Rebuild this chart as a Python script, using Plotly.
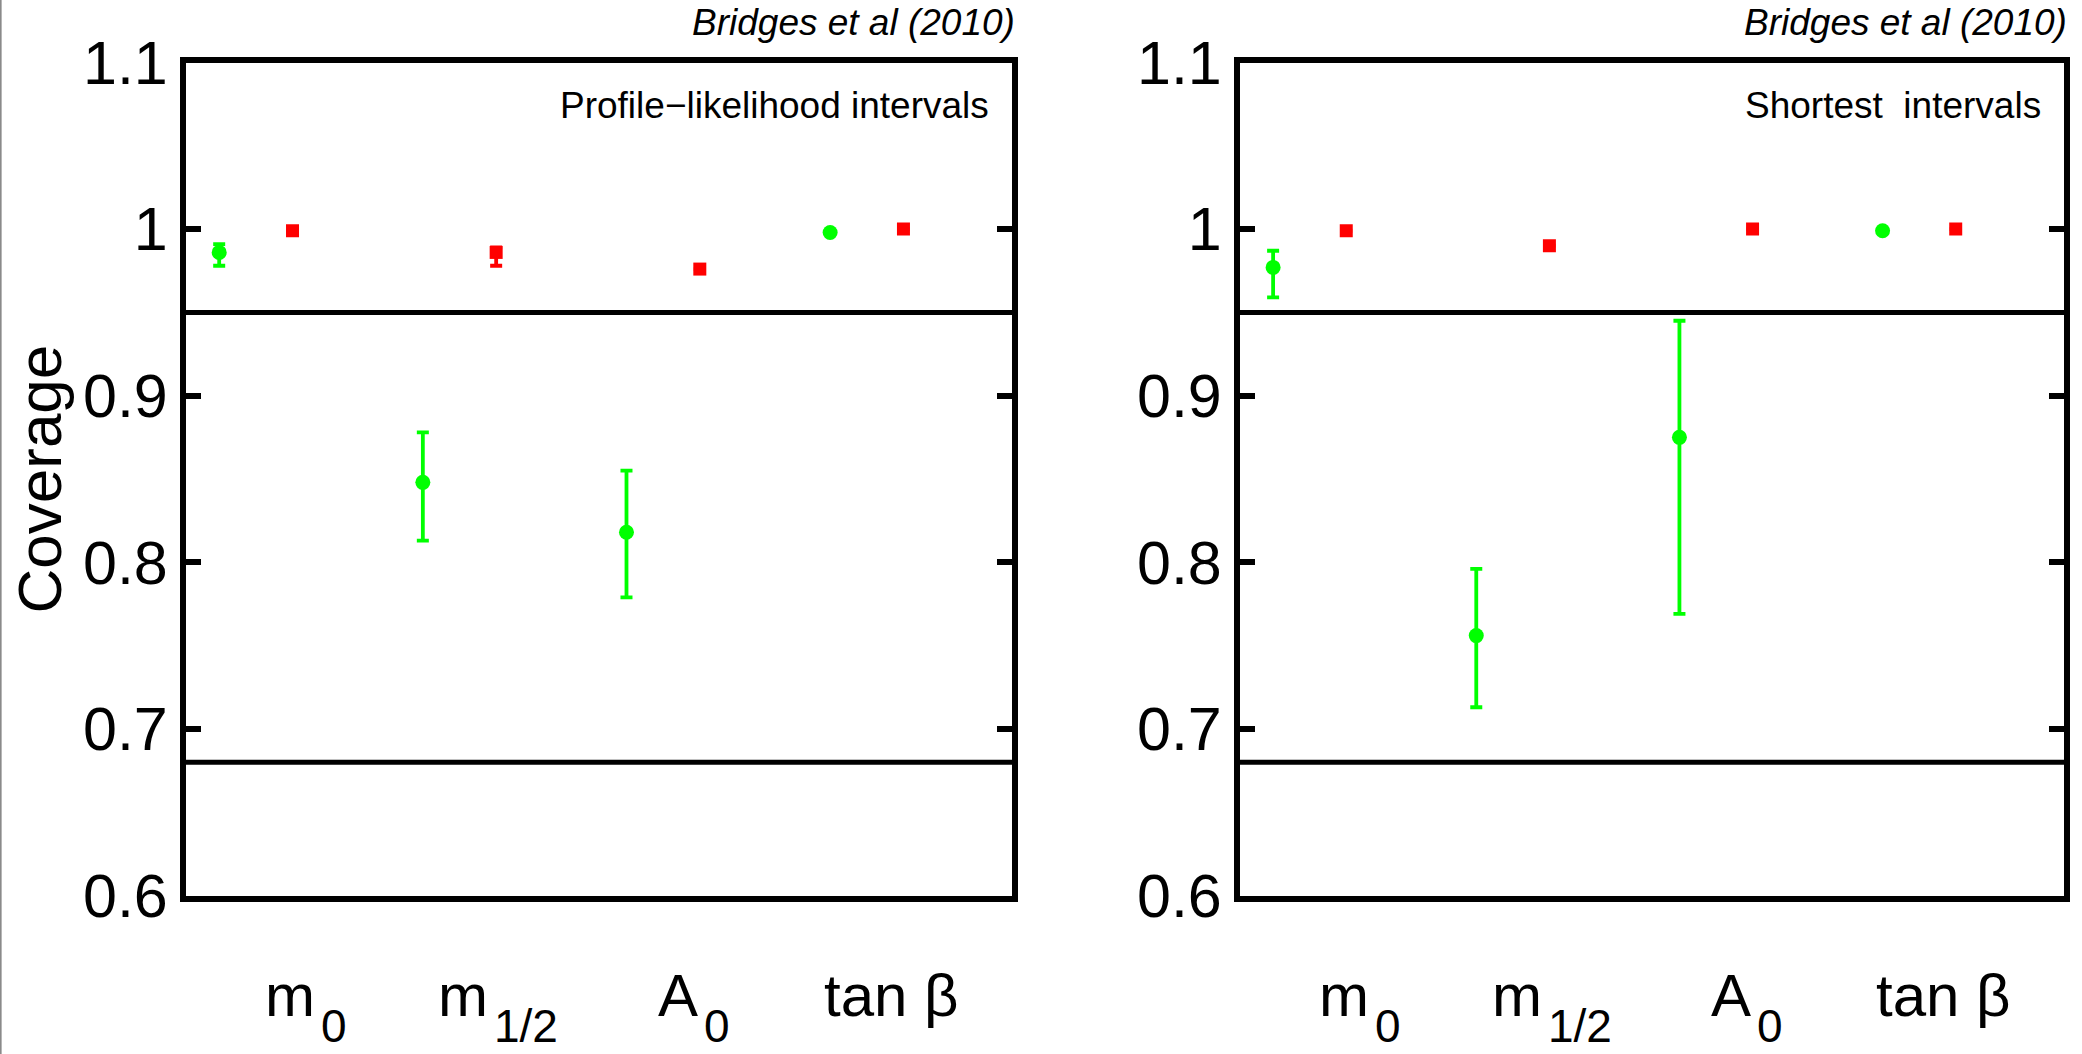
import numpy as np
import plotly.graph_objects as go

# Parameters (shared x categories)
param_base = ["m", "m", "A", "tan β"]
param_sub = ["0", "1/2", "0", ""]

# Profile-likelihood intervals (left panel)
pl_green = [0.986, 0.848, 0.818, 0.998]
pl_green_plus = [0.005, 0.030, 0.037, 0.0]
pl_green_minus = [0.008, 0.035, 0.039, 0.0]
pl_red = [0.999, 0.986, 0.976, 1.000]
pl_red_plus = [0.0, 0.003, 0.0, 0.0]
pl_red_minus = [0.0, 0.008, 0.0, 0.0]

# Shortest intervals (right panel)
sh_green = [0.977, 0.756, 0.875, 0.999]
sh_green_plus = [0.010, 0.040, 0.070, 0.0]
sh_green_minus = [0.018, 0.043, 0.106, 0.0]
sh_red = [0.999, 0.990, 1.000, 1.000]
sh_red_plus = [0.0, 0.0, 0.0, 0.0]
sh_red_minus = [0.0, 0.0, 0.0, 0.0]

# Reference coverage levels
ref_levels = [0.95, 0.68]

y_ticks = [0.6, 0.7, 0.8, 0.9, 1.0, 1.1]
y_ticktext = ["0.6", "0.7", "0.8", "0.9", "1", "1.1"]

panel_titles = ["Profile\u2212likelihood intervals", "Shortest\u00a0 intervals"]
credit = "Bridges et al (2010)"

GREEN = "#00ff00"
RED = "#ff0000"
FONT = "Liberation Sans, Arial, Helvetica, sans-serif"
W, H = 2082, 1054

idx = np.arange(1, len(param_base) + 1)
OFF = 0.18
label_join = [0.30, 0.152, 0.182, 0.464]

fig = go.Figure()

panels = [
    ("x", "y", pl_green, pl_green_plus, pl_green_minus, pl_red, pl_red_plus, pl_red_minus),
    ("x2", "y2", sh_green, sh_green_plus, sh_green_minus, sh_red, sh_red_plus, sh_red_minus),
]

for xa, ya, g, gp, gm, r, rp, rm in panels:
    fig.add_trace(go.Scatter(
        x=idx - OFF, y=g, mode="markers", xaxis=xa, yaxis=ya,
        marker=dict(symbol="circle", size=15, color=GREEN, line=dict(width=0)),
        error_y=dict(type="data", symmetric=False, array=gp, arrayminus=gm,
                     color=GREEN, thickness=3.8, width=6),
        showlegend=False, hoverinfo="y"))
    fig.add_trace(go.Scatter(
        x=idx + OFF, y=r, mode="markers", xaxis=xa, yaxis=ya,
        marker=dict(symbol="square", size=13, color=RED, line=dict(width=0)),
        error_y=dict(type="data", symmetric=False, array=rp, arrayminus=rm,
                     color=RED, thickness=3.8, width=6),
        showlegend=False, hoverinfo="y"))

ydom = [(H - 895.5) / H, (H - 62.5) / H]
xdoms = [[186 / W, 1012 / W], [1240 / W, 2064 / W]]
xrange_ = [0.657, 4.713]
yrange_ = [0.6, 1.1]

axis_common = dict(showgrid=False, zeroline=False, showline=True,
                   linecolor="black", linewidth=6)

layout = dict(
    width=W, height=H,
    margin=dict(l=0, r=0, t=0, b=0, autoexpand=False),
    paper_bgcolor="white", plot_bgcolor="white",
    font=dict(family=FONT, color="black"),
    showlegend=False,
)

for i, (xa, ya) in enumerate([("x", "y"), ("x2", "y2")]):
    xkey = "xaxis" if i == 0 else "xaxis2"
    ykey = "yaxis" if i == 0 else "yaxis2"
    layout[xkey] = dict(axis_common, domain=xdoms[i], range=xrange_, anchor=ya,
                        mirror=True, ticks="", showticklabels=False)
    layout[ykey] = dict(axis_common, domain=ydom, range=yrange_, anchor=xa,
                        mirror="ticks", ticks="inside", ticklen=15, tickwidth=5.5,
                        tickcolor="black", tickvals=y_ticks, ticktext=y_ticktext,
                        tickfont=dict(size=61, family=FONT, color="black"))

fig.update_layout(**layout)

annotations = []
shapes = []
for i, (xa, ya) in enumerate([("x", "y"), ("x2", "y2")]):
    # credit line above each panel
    annotations.append(dict(
        text="<i>" + credit + "</i>", xref=xa + " domain", x=1, xanchor="right",
        xshift=5, yref="paper", y=(H - 22.5) / H, yanchor="middle", showarrow=False,
        font=dict(size=37, family=FONT, color="black")))
    # panel caption inside the box
    annotations.append(dict(
        text=panel_titles[i], xref=xa + " domain", x=1, xanchor="right", xshift=-21,
        yref="paper", y=(H - 105.5) / H, yanchor="middle", showarrow=False,
        font=dict(size=37, family=FONT, color="black")))
    # parameter names below the axis
    for k, base, sub, j in zip(idx, param_base, param_sub, label_join):
        annotations.append(dict(
            text=base, xref=xa, x=k + j, xanchor="right", yref="paper",
            y=(H - 995.5) / H, yanchor="middle", showarrow=False,
            font=dict(size=60, family=FONT, color="black")))
        if sub:
            annotations.append(dict(
                text=sub, xref=xa, x=k + j, xanchor="left", xshift=2, yref="paper",
                y=(H - 1026) / H, yanchor="middle", showarrow=False,
                font=dict(size=46, family=FONT, color="black")))
    # reference coverage lines
    for lvl in ref_levels:
        shapes.append(dict(type="line", xref=xa + " domain", x0=0, x1=1,
                           yref=ya, y0=lvl, y1=lvl,
                           line=dict(color="black", width=5)))

annotations.append(dict(
    text="Coverage", xref="paper", x=38.5 / W, xanchor="center",
    yref="paper", y=(H - 479) / H, yanchor="middle", textangle=-90,
    showarrow=False, font=dict(size=62, family=FONT, color="black")))

# thin grey frame edge on the far left
shapes.append(dict(type="line", xref="paper", x0=0.0003, x1=0.0003, yref="paper",
                   y0=0, y1=1, line=dict(color="#8a8a8a", width=2)))

fig.update_layout(annotations=annotations, shapes=shapes)

fig.write_html("out.html")
